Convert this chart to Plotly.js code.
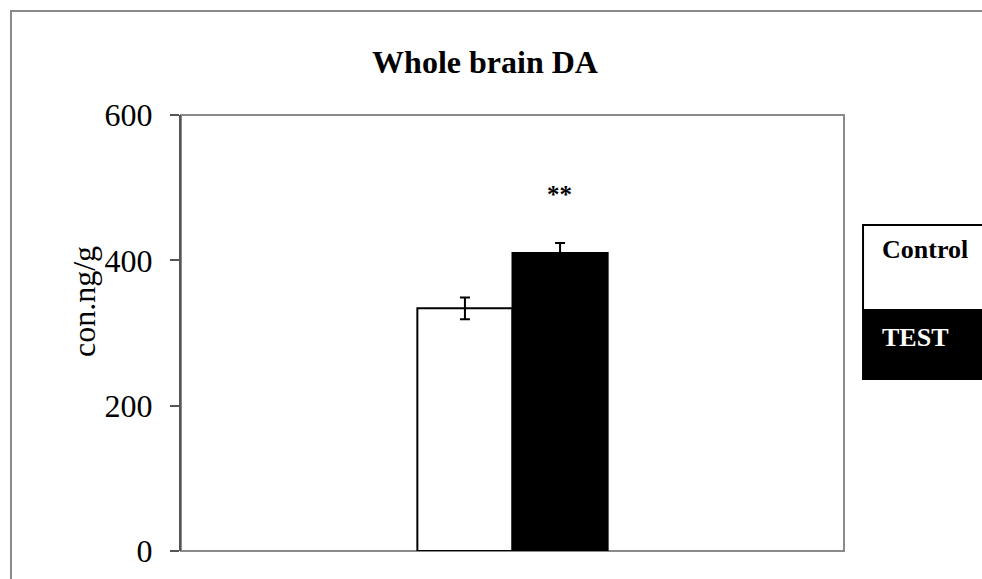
<!DOCTYPE html>
<html>
<head>
<meta charset="utf-8">
<script src="https://cdn.plot.ly/plotly-3.0.1.min.js"></script>
<style>
  html, body { margin: 0; padding: 0; background: #fff; overflow: hidden; }
  #frame { position: absolute; left: 10px; top: 10px; width: 1200px; height: 700px; border: 2px solid #8a8a8a; }
  #chart { position: absolute; left: 0; top: 0; width: 982px; height: 579px; }
</style>
</head>
<body>
<div id="frame"></div>
<div id="chart"></div>
<script>
const categories = ["Whole brain DA"];
const seriesNames = ["Control", "TEST"];
const controlValues = [334];
const controlErrors = [15];
const testValues = [410];
const testErrors = [14];
const yTickValues = [0, 200, 400, 600];
const yTickLabels = ["0", "200", "400", "600"];
const chartTitle = "Whole brain DA";
const yAxisTitle = "con.ng/g";
const significanceMark = "**";

const serif = "Liberation Serif, Times New Roman, serif";

const traces = [
  {
    type: "bar",
    name: seriesNames[0],
    x: categories,
    y: controlValues,
    marker: { color: "#ffffff", line: { color: "#000000", width: 2 } },
    error_y: { type: "data", array: controlErrors, visible: true, color: "#000000", thickness: 2, width: 5 }
  },
  {
    type: "bar",
    name: seriesNames[1],
    x: categories,
    y: testValues,
    marker: { color: "#000000", line: { color: "#000000", width: 2 } },
    error_y: { type: "data", array: testErrors, visible: true, color: "#000000", thickness: 2, width: 5 }
  }
];

const layout = {
  width: 982,
  height: 579,
  margin: { l: 181, r: 138, t: 115, b: 28 },
  paper_bgcolor: "rgba(0,0,0,0)",
  plot_bgcolor: "rgba(0,0,0,0)",
  showlegend: false,
  barmode: "group",
  bargap: 0.713,
  bargroupgap: 0,
  title: {
    text: "<b>" + chartTitle + "</b>",
    font: { family: serif, size: 32, color: "#000" },
    xref: "container", x: 485 / 982, xanchor: "center",
    yref: "container", y: 1 - 62 / 579, yanchor: "middle"
  },
  xaxis: {
    showticklabels: false,
    ticks: "",
    showgrid: false,
    zeroline: false,
    showline: false
  },
  yaxis: {
    range: [0, 600],
    tickvals: yTickValues,
    ticktext: yTickLabels,
    ticks: "outside",
    ticklen: 9,
    tickwidth: 2,
    tickcolor: "#555",
    ticklabelstandoff: 11,
    tickfont: { family: serif, size: 32, color: "#000" },
    showgrid: false,
    zeroline: false,
    showline: true,
    linecolor: "#555",
    linewidth: 2
  },
  shapes: [
    { type: "rect", xref: "paper", yref: "paper", x0: 0, x1: 1, y0: 0, y1: 1,
      line: { color: "#8a8a8a", width: 2 }, layer: "below" },
    { type: "rect", xref: "paper", yref: "paper", x0: 1.0287, x1: 1.5, y0: 0.5528, y1: 0.7477,
      fillcolor: "#ffffff", line: { color: "#000000", width: 2 } },
    { type: "rect", xref: "paper", yref: "paper", x0: 1.0287, x1: 1.5, y0: 0.3945, y1: 0.5528,
      fillcolor: "#000000", line: { color: "#000000", width: 2 } }
  ],
  annotations: [
    { text: yAxisTitle, xref: "paper", yref: "paper", x: -0.1463, y: 0.571,
      textangle: -90, showarrow: false, xanchor: "center", yanchor: "middle",
      font: { family: serif, size: 32, color: "#000" } },
    { text: "<b>" + significanceMark + "</b>", xref: "x", yref: "y", x: categories[0], y: testValues[0] + testErrors[0] + 67,
      xshift: 47, showarrow: false, xanchor: "center", yanchor: "middle",
      font: { family: serif, size: 25, color: "#000" } },
    { text: "<b>" + seriesNames[0] + "</b>", xref: "paper", yref: "paper", x: 1.0543, y: 0.6904,
      showarrow: false, xanchor: "left", yanchor: "middle",
      font: { family: serif, size: 26, color: "#000" } },
    { text: "<b>" + seriesNames[1] + "</b>", xref: "paper", yref: "paper", x: 1.0543, y: 0.4908,
      showarrow: false, xanchor: "left", yanchor: "middle",
      font: { family: serif, size: 26, color: "#fff" } }
  ]
};

Plotly.newPlot("chart", traces, layout, { displayModeBar: false, staticPlot: true });
</script>
</body>
</html>
